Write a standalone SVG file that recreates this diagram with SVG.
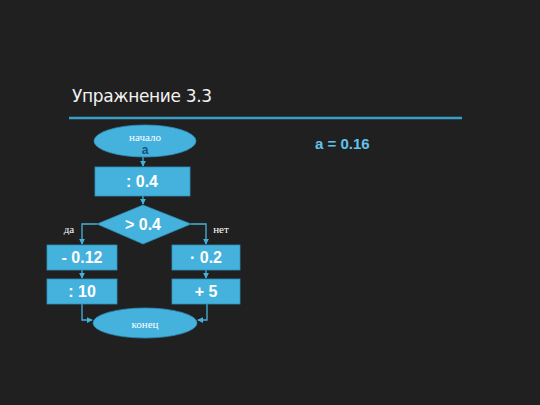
<svg xmlns="http://www.w3.org/2000/svg" width="540" height="405" viewBox="0 0 540 405">
<defs>
<marker id="arr" viewBox="0 0 8 8" refX="7" refY="4" markerWidth="6" markerHeight="6" orient="auto" markerUnits="userSpaceOnUse">
<path d="M0,0 L8,4 L0,8 z" fill="#45b2de"/>
</marker>
<style>
.shape{fill:#45b2de;stroke:#2f8fb8;stroke-width:0.8}
.lbl{font-family:"Liberation Sans",Arial,sans-serif;font-weight:bold;font-size:16px;fill:#ffffff;text-anchor:middle}
.ser{font-family:"Liberation Serif","Times New Roman",serif;font-size:11px;fill:#ffffff;text-anchor:middle}
.con{fill:none;stroke:#45b2de;stroke-width:1.3}
</style>
</defs>
<rect x="0" y="0" width="540" height="405" fill="#202020"/>
<text x="72" y="102" font-family="'DejaVu Sans',sans-serif" font-size="17" fill="#f2f2f2" textLength="140">Упражнение 3.3</text>
<line x1="69" y1="118" x2="462" y2="118" stroke="#3a9fc6" stroke-width="2.5"/>
<text x="315" y="149" font-family="'Liberation Sans',Arial,sans-serif" font-weight="bold" font-size="15" fill="#62c3ea">a = 0.16</text>

<g id="connectors">
<line class="con" x1="143" y1="157" x2="143" y2="166" marker-end="url(#arr)"/>
<line class="con" x1="143" y1="196" x2="143" y2="204" marker-end="url(#arr)"/>
<polyline class="con" points="97,224 82,224 82,244" marker-end="url(#arr)"/>
<polyline class="con" points="191,224 206,224 206,244" marker-end="url(#arr)"/>
<line class="con" x1="82" y1="270" x2="82" y2="278" marker-end="url(#arr)"/>
<line class="con" x1="206" y1="270" x2="206" y2="278" marker-end="url(#arr)"/>
<polyline class="con" points="82,304 82,320 92,320" marker-end="url(#arr)"/>
<polyline class="con" points="207,304 207,320 198,320" marker-end="url(#arr)"/>
</g>

<g id="start">
<ellipse class="shape" cx="145" cy="141" rx="51" ry="16"/>
<text class="ser" x="145" y="141" font-size="12">начало</text>
<text x="145" y="154" font-family="'Liberation Sans',Arial,sans-serif" font-weight="bold" font-size="12" fill="#1c4f78" text-anchor="middle">a</text>
</g>
<g id="div04">
<rect class="shape" x="95" y="167" width="95" height="29"/>
<text class="lbl" x="142" y="187">: 0.4</text>
</g>
<g id="cond">
<polygon class="shape" points="143,205 191,224 143,244 97,224"/>
<text class="lbl" x="143" y="230">&gt; 0.4</text>
</g>
<text class="ser" x="69" y="233">да</text>
<text class="ser" x="221" y="233">нет</text>
<g id="minus012">
<rect class="shape" x="47" y="245" width="70" height="25"/>
<text class="lbl" x="82" y="263">- 0.12</text>
</g>
<g id="div10">
<rect class="shape" x="47" y="279" width="70" height="25"/>
<text class="lbl" x="82" y="297">: 10</text>
</g>
<g id="mul02">
<rect class="shape" x="172" y="245" width="68" height="25"/>
<text class="lbl" x="206" y="263">· 0.2</text>
</g>
<g id="plus5">
<rect class="shape" x="172" y="279" width="68" height="25"/>
<text class="lbl" x="206" y="297">+ 5</text>
</g>
<g id="end">
<ellipse class="shape" cx="145" cy="323" rx="52" ry="15"/>
<text class="ser" x="145" y="328" font-size="14">конец</text>
</g>
</svg>
